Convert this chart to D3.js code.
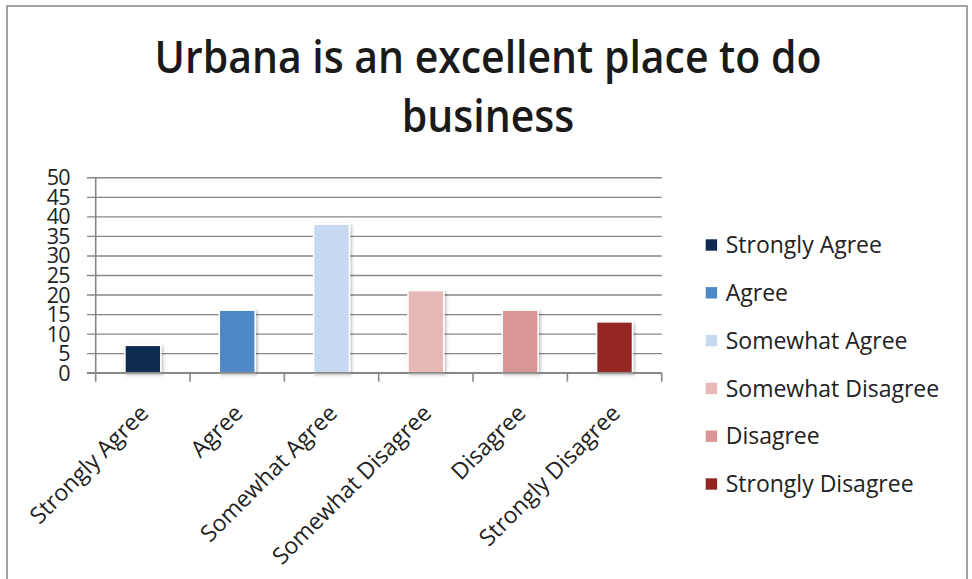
<!DOCTYPE html>
<html>
<head>
<meta charset="utf-8">
<script src="https://cdn.jsdelivr.net/npm/d3@7/dist/d3.min.js"></script>
<style>
  html, body { margin: 0; padding: 0; background: #fff; }
  svg { display: block; }
</style>
</head>
<body>
<svg id="chart" width="972" height="579"></svg>
<script>
// Survey responses: "Urbana is an excellent place to do business"
const categories = ["Strongly Agree", "Agree", "Somewhat Agree", "Somewhat Disagree", "Disagree", "Strongly Disagree"];
const responses = [7, 16, 38, 21, 16, 13];
const barColors = ["#0d2a50", "#4f88c6", "#c6d9f1", "#e6b9b8", "#d99694", "#952523"];
const yTicks = [0, 5, 10, 15, 20, 25, 30, 35, 40, 45, 50];
const titleLines = ["Urbana is an excellent place to do", "business"];

const W = 972, H = 579;
const svg = d3.select("#chart");
const labelFont = "'Open Sans', sans-serif";

// chart frame
svg.append("rect")
  .attr("x", 7).attr("y", 6).attr("width", 960).attr("height", 600)
  .attr("fill", "#fff").attr("stroke", "#8c8c8c").attr("stroke-width", 1.6);

// soft shadow under bars
const defs = svg.append("defs");
const f = defs.append("filter").attr("id", "shadow")
  .attr("x", "-30%").attr("y", "-10%").attr("width", "160%").attr("height", "130%");
f.append("feDropShadow").attr("dx", 1.5).attr("dy", 1.5).attr("stdDeviation", 1.5)
  .attr("flood-color", "#000").attr("flood-opacity", 0.28);

// title, condensed horizontally so the first line spans ~667px
const titleG = svg.append("g");
const titleTexts = titleG.selectAll("text").data(titleLines).join("text")
  .attr("x", 0).attr("y", (d, i) => 73.5 + i * 58.3)
  .attr("text-anchor", "middle")
  .attr("font-family", labelFont)
  .attr("font-weight", 600)
  .attr("font-size", 46)
  .attr("fill", "#1a1a1a")
  .text(d => d);
const firstLen = titleTexts.node().getComputedTextLength();
const sx = 667 / firstLen;
titleG.attr("transform", `translate(488,0) scale(${sx},1)`);

// plot area
const plot = { left: 95.7, right: 661.7, top: 177.3, bottom: 372.7 };
const x = d3.scaleBand().domain(categories).range([plot.left, plot.right]).padding(0);
const y = d3.scaleLinear().domain([0, 50]).range([plot.bottom, plot.top]);
const gridColor = "#878787";

// horizontal gridlines with left tick marks
const yAxis = d3.axisLeft(y).tickValues(yTicks).tickSize(-(plot.right - plot.left)).tickFormat(d3.format("d"));
const gy = svg.append("g").attr("transform", `translate(${plot.left},0)`).call(yAxis);
gy.select(".domain").remove();
gy.selectAll(".tick line").attr("x1", -8.7).attr("stroke", gridColor).attr("stroke-width", 1.4);
gy.selectAll(".tick text")
  .attr("x", -26).attr("dy", "0.35em")
  .attr("font-family", labelFont).attr("font-size", 21.5).attr("fill", "#222")
  .attr("letter-spacing", -0.8);

// vertical axis line
svg.append("line")
  .attr("x1", plot.left).attr("x2", plot.left)
  .attr("y1", plot.top).attr("y2", plot.bottom + 9)
  .attr("stroke", gridColor).attr("stroke-width", 1.6);

// category boundary ticks below the baseline
const bounds = categories.map(c => x(c)).concat([plot.right]);
svg.append("g").selectAll("line").data(bounds.slice(1)).join("line")
  .attr("x1", d => d).attr("x2", d => d)
  .attr("y1", plot.bottom).attr("y2", plot.bottom + 9)
  .attr("stroke", gridColor).attr("stroke-width", 1.6);

// bars
const barW = x.bandwidth() * 0.38;
svg.append("g").selectAll("rect").data(categories).join("rect")
  .attr("x", d => x(d) + (x.bandwidth() - barW) / 2)
  .attr("y", (d, i) => y(responses[i]))
  .attr("width", barW)
  .attr("height", (d, i) => y(0) - y(responses[i]))
  .attr("fill", (d, i) => barColors[i])
  .attr("stroke", "#fff").attr("stroke-width", 1.5)
  .attr("filter", "url(#shadow)");

// baseline drawn over bars
svg.append("line")
  .attr("x1", plot.left - 8.7).attr("x2", plot.right)
  .attr("y1", plot.bottom).attr("y2", plot.bottom)
  .attr("stroke", gridColor).attr("stroke-width", 1.6);

// rotated category labels
svg.append("g").selectAll("text").data(categories).join("text")
  .attr("transform", d => `translate(${x(d) + x.bandwidth() / 2 + 7},${plot.bottom + 42}) rotate(-45)`)
  .attr("text-anchor", "end")
  .attr("font-family", labelFont).attr("font-size", 23).attr("fill", "#222")
  .text(d => d);

// legend
const lg = svg.append("g").attr("transform", "translate(705.7,245)");
const rows = lg.selectAll("g").data(categories).join("g")
  .attr("transform", (d, i) => `translate(0,${i * 47.8})`);
rows.append("rect").attr("x", 0).attr("y", -5.7).attr("width", 11.4).attr("height", 11.4)
  .attr("fill", (d, i) => barColors[i]);
rows.append("text").attr("x", 20).attr("dy", "0.36em")
  .attr("font-family", labelFont).attr("font-size", 23).attr("fill", "#222")
  .text(d => d);
</script>
</body>
</html>
